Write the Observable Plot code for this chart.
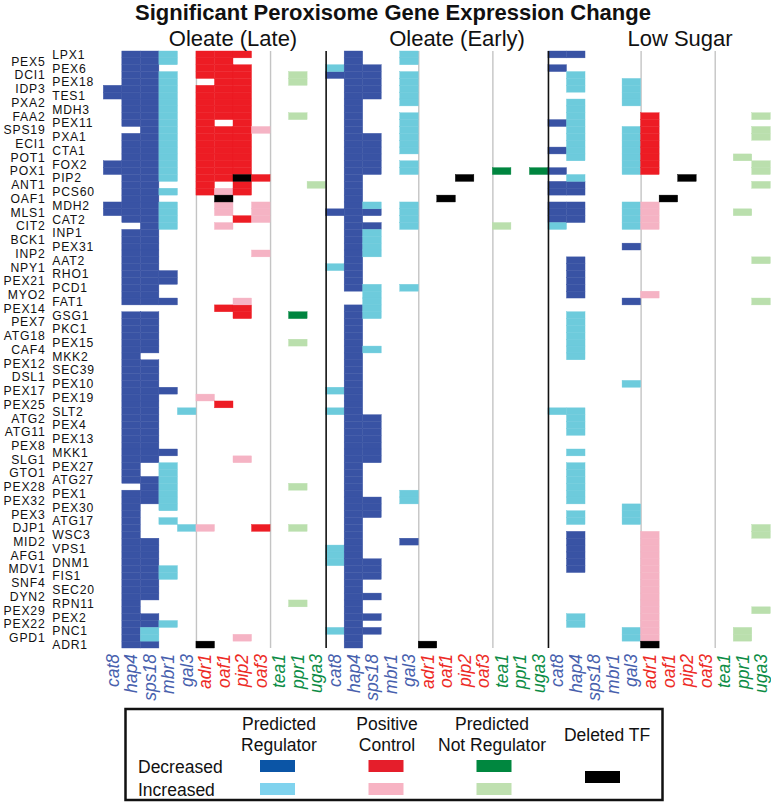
<!DOCTYPE html>
<html><head><meta charset="utf-8">
<script src="https://cdn.jsdelivr.net/npm/d3@7"></script>
<script src="https://cdn.jsdelivr.net/npm/@observablehq/plot@0.6"></script>
<style>body{margin:0;background:#fff;} #chart svg{display:block}</style>
</head><body><div id="chart"></div>
<script>
// ---------------- data ----------------
const title = "Significant Peroxisome Gene Expression Change";
const conditions = ["Oleate (Late)", "Oleate (Early)", "Low Sugar"];
const tfs = ["cat8","hap4","sps18","mbr1","gal3","adr1","oaf1","pip2","oaf3","tea1","ppr1","uga3"];
const tfClass = ["reg","reg","reg","reg","reg","pos","pos","pos","pos","not","not","not"];
const genes = ["LPX1","PEX5","PEX6","DCI1","PEX18","IDP3","TES1","PXA2","MDH3","FAA2","PEX11","SPS19","PXA1","ECI1","CTA1","POT1","FOX2","POX1","PIP2","ANT1","PCS60","OAF1","MDH2","MLS1","CAT2","CIT2","INP1","BCK1","PEX31","INP2","AAT2","NPY1","RHO1","PEX21","PCD1","MYO2","FAT1","PEX14","GSG1","PEX7","PKC1","ATG18","PEX15","CAF4","MKK2","PEX12","SEC39","DSL1","PEX10","PEX17","PEX19","PEX25","SLT2","ATG2","PEX4","ATG11","PEX13","PEX8","MKK1","SLG1","PEX27","GTO1","ATG27","PEX28","PEX1","PEX32","PEX30","PEX3","ATG17","DJP1","WSC3","MID2","VPS1","AFG1","DNM1","MDV1","FIS1","SNF4","SEC20","DYN2","RPN11","PEX29","PEX2","PEX22","PNC1","GPD1","ADR1"];

// [TF, change, genes ("A..B" = consecutive rows A through B)]
const oleateLate = [
  ["cat8","down","IDP3..TES1 FOX2..POX1 MDH2..MLS1"],
  ["hap4","down","LPX1..PEX11 PXA1..CAT2 INP1..FAT1 GSG1..ATG27 PEX1..ADR1"],
  ["sps18","down","LPX1..FAT1 GSG1..CAF4 PEX12..SLG1 ATG27..PEX32 MID2..DYN2 PEX2..PEX22 ADR1"],
  ["sps18","up","PNC1..GPD1"],
  ["mbr1","up","LPX1..PEX5 DCI1..PIP2 PCS60 MDH2..CIT2 PEX27..PEX30 ATG17 MDV1..FIS1 PEX22"],
  ["mbr1","down","RHO1..PEX21 FAT1 PEX17 MKK1"],
  ["gal3","up","SLT2 DJP1"],
  ["adr1","down","LPX1..DCI1 IDP3..PCS60"],
  ["adr1","up","PEX19 DJP1"],
  ["adr1","deleted","ADR1"],
  ["oaf1","down","LPX1..FAA2 SPS19..PIP2 PEX14 PEX25"],
  ["oaf1","up","PCS60 MDH2..MLS1 CIT2"],
  ["oaf1","deleted","OAF1"],
  ["pip2","down","LPX1 PEX6..POX1 ANT1..PCS60 CAT2 PEX14..GSG1"],
  ["pip2","up","FAT1 SLG1 GPD1"],
  ["pip2","deleted","PIP2"],
  ["oaf3","down","PIP2 DJP1"],
  ["oaf3","up","SPS19 MDH2..CAT2 INP2"],
  ["ppr1","down","GSG1"],
  ["ppr1","up","DCI1..PEX18 FAA2 PEX15 PEX28 DJP1 RPN11"],
  ["uga3","up","ANT1"]
];
const oleateEarly = [
  ["cat8","down","DCI1 MLS1"],
  ["cat8","up","PEX6 NPY1 PEX17 SLT2 VPS1..DNM1 PNC1"],
  ["hap4","down","LPX1..PCD1 PEX14..ADR1"],
  ["sps18","down","PEX6..TES1 PXA1..POX1 MLS1 CIT2 ATG2..SLG1 PEX32..PEX3 DNM1..FIS1 DYN2 PEX2 PNC1"],
  ["sps18","up","MDH2 INP1..INP2 PCD1..GSG1 CAF4"],
  ["gal3","up","LPX1..PEX5 DCI1..PXA2 FAA2..CTA1 FOX2..POX1 MDH2..CIT2 PCD1 PEX1..PEX32"],
  ["gal3","down","MID2"],
  ["adr1","deleted","ADR1"],
  ["oaf1","deleted","OAF1"],
  ["pip2","deleted","PIP2"],
  ["tea1","down","POX1"],
  ["tea1","up","CIT2"],
  ["uga3","down","POX1"]
];
const lowSugar = [
  ["cat8","down","LPX1 PEX6 PEX11 CTA1 POX1 ANT1..PCS60 MDH2..CAT2"],
  ["cat8","up","CIT2 SLT2"],
  ["hap4","down","LPX1 ANT1..PCS60 MDH2..CAT2 AAT2..MYO2 WSC3..MDV1"],
  ["hap4","up","DCI1..IDP3 PXA2..POT1 PIP2 GSG1..MKK2 SLT2..ATG11 MKK1 PEX27..PEX32 PEX3..ATG17 PEX2..PEX22"],
  ["gal3","up","PEX18..PXA2 SPS19..POX1 MDH2..CIT2 PEX10 PEX30..ATG17 PNC1..GPD1"],
  ["gal3","down","PEX31 FAT1"],
  ["adr1","down","FAA2..POX1"],
  ["adr1","up","MDH2..CIT2 MYO2 WSC3..GPD1"],
  ["adr1","deleted","ADR1"],
  ["oaf1","deleted","OAF1"],
  ["pip2","deleted","PIP2"],
  ["ppr1","up","POT1 MLS1 PNC1..GPD1"],
  ["uga3","up","FAA2 SPS19..PXA1 FOX2..POX1 ANT1 AAT2 FAT1 DJP1..WSC3 PEX29"]
];

const categories = ["reg-down","reg-up","pos-down","pos-up","not-down","not-up","deleted"];
const cellColors = ["#3953a4","#6dcbdc","#ed1c24","#f5b3c4","#00853f","#badfad","#000000"];
const legendColors = ["#0b55a6","#80d3ee","#e51e2b","#f7b3c3","#00873f","#bfe0b0","#000000"];
const classLabelColors = {reg: "#4760ad", pos: "#ed2a25", not: "#0c8c45"};
const legendHeaders = [["Predicted","Regulator"],["Positive","Control"],["Predicted","Not Regulator"]];
const legendRows = ["Decreased","Increased"];
const legendDeleted = "Deleted TF";

// ---------------- build cells ----------------
const gIndex = new Map(genes.map((g, i) => [g, i]));
function expand(spec) {
  const out = [];
  for (const tok of spec.trim().split(/\s+/)) {
    if (tok.includes("..")) {
      const [a, b] = tok.split("..");
      for (let i = gIndex.get(a); i <= gIndex.get(b); i++) out.push(i);
    } else out.push(gIndex.get(tok));
  }
  return out;
}
const cells = [];
[oleateLate, oleateEarly, lowSugar].forEach((panel, p) => {
  for (const [tf, change, spec] of panel) {
    const t = tfs.indexOf(tf);
    const cat = change === "deleted" ? "deleted" : `${tfClass[t]}-${change}`;
    for (const r of expand(spec)) cells.push({col: p * 12 + t, row: r, cat, gene: genes[r], tf, condition: conditions[p]});
  }
});
const columns = [];
conditions.forEach((c, p) => tfs.forEach((tf, t) => columns.push({col: p * 12 + t, tf, cls: tfClass[t]})));
const blackLines = [12, 24];
const grayLines = [5, 9, 17, 21, 29, 33];
const rowsIdx = genes.map((g, i) => ({g, i}));

const FONT = "Liberation Sans, Arial, Helvetica, sans-serif";
const chart = Plot.plot({
  width: 771, height: 804,
  marginTop: 51, marginBottom: 156, marginLeft: 103.3, marginRight: 0.7,
  x: {domain: [0, 36], axis: null},
  y: {domain: [0, genes.length], reverse: true, axis: null},
  color: {domain: categories, range: cellColors},
  style: {fontFamily: FONT, background: "white", color: "#111"},
  marks: [
    Plot.ruleX(grayLines, {x: d => d, y1: 0, y2: genes.length, stroke: "#c4c4c4", strokeWidth: 1.4}),
    Plot.rect(cells, {x1: "col", x2: d => d.col + 1, y1: "row", y2: d => d.row + 1, fill: "cat", stroke: "cat", strokeWidth: 0.4}),
    Plot.ruleX(blackLines, {x: d => d, y1: 0, y2: genes.length, stroke: "#111", strokeWidth: 1.6}),
    Plot.text(rowsIdx.filter(d => d.i % 2 === 1), {x: 0, y: d => d.i + 0.5, text: "g", textAnchor: "end", dx: -58.3, fontSize: 12.2, fill: "#111"}),
    Plot.text(rowsIdx.filter(d => d.i % 2 === 0), {x: 0, y: d => d.i + 0.5, text: "g", textAnchor: "start", dx: -51.6, fontSize: 12.2, fill: "#111"}),
    ...["reg","pos","not"].map(cls => Plot.text(columns.filter(d => d.cls === cls), {
      x: d => d.col + 0.5, y: genes.length, text: "tf", rotate: -90, textAnchor: "end", lineAnchor: "middle",
      dy: 5.5, fontSize: 17.5, fontStyle: "italic", fill: classLabelColors[cls]
    }))
  ]
});
document.getElementById("chart").appendChild(chart);

// widen gene labels slightly (reference glyphs are broad)
const geneSet = new Set(genes);
d3.select(chart).selectAll("text").filter(function() { return geneSet.has(this.textContent); })
  .style("letter-spacing", "0.8px");

// ---------------- title, subtitles, legend ----------------
const svg = d3.select(chart);
svg.append("text").attr("x", 393).attr("y", 20).attr("text-anchor", "middle")
  .attr("font-family", FONT).attr("font-weight", "bold").attr("font-size", 22).attr("fill", "#111").text(title);
const subX = [233, 457, 680];
conditions.forEach((c, i) => svg.append("text").attr("x", subX[i]).attr("y", 46).attr("text-anchor", "middle")
  .attr("font-family", FONT).attr("font-size", 22).attr("fill", "#111").text(c));

const lg = svg.append("g").attr("font-family", FONT).attr("font-size", 17.5).attr("fill", "#111").attr("text-anchor", "start");
lg.append("rect").attr("x", 125.5).attr("y", 709).attr("width", 537).attr("height", 91)
  .attr("fill", "none").attr("stroke", "#111").attr("stroke-width", 2.5);
const hdrX = [279, 387, 492];
legendHeaders.forEach((h, i) => {
  lg.append("text").attr("x", hdrX[i]).attr("y", 730).attr("text-anchor", "middle").text(h[0]);
  lg.append("text").attr("x", hdrX[i]).attr("y", 751).attr("text-anchor", "middle").text(h[1]);
});
lg.append("text").attr("x", 607).attr("y", 741).attr("text-anchor", "middle").text(legendDeleted);
legendRows.forEach((r, j) => lg.append("text").attr("x", 138).attr("y", 773 + 23 * j).attr("text-anchor", "start").text(r));
const swX = [260, 368.5, 476.5];
swX.forEach((x, i) => {
  for (let j = 0; j < 2; j++) lg.append("rect").attr("x", x).attr("y", 760 + 23 * j).attr("width", 35).attr("height", 12)
    .attr("fill", legendColors[i * 2 + j]);
});
lg.append("rect").attr("x", 585).attr("y", 771).attr("width", 35).attr("height", 12).attr("fill", legendColors[6]);
</script></body></html>
